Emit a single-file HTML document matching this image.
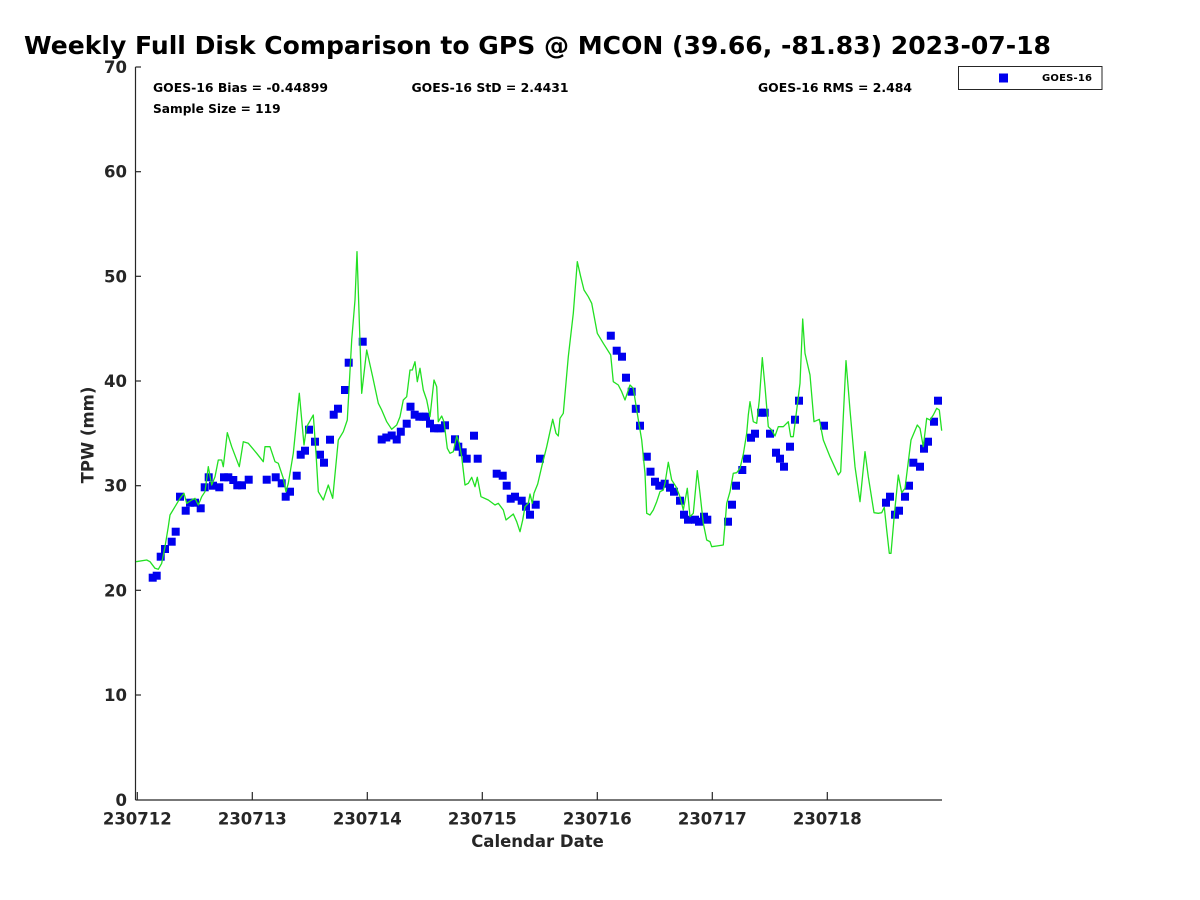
<!DOCTYPE html>
<html><head><meta charset="utf-8"><style>
html,body{margin:0;padding:0;background:#fff;}
svg{display:block;}
text{font-family:"DejaVu Sans","Liberation Sans",sans-serif;font-weight:bold;}
</style></head><body>
<svg width="1200" height="900" viewBox="0 0 1200 900" xmlns="http://www.w3.org/2000/svg">
<rect width="1200" height="900" fill="#fff"/>
<text x="24" y="54" font-size="25" fill="#000" textLength="1027" lengthAdjust="spacingAndGlyphs">Weekly Full Disk Comparison to GPS @ MCON (39.66, -81.83) 2023-07-18</text>
<g stroke="#262626" stroke-width="1.2" fill="none">
<line x1="135.5" y1="67" x2="135.5" y2="800"/>
<line x1="135.5" y1="800" x2="942" y2="800"/>
<line x1="135.5" y1="67" x2="141" y2="67"/>
<line x1="135.5" y1="171.7" x2="141" y2="171.7"/>
<line x1="135.5" y1="276.3" x2="141" y2="276.3"/>
<line x1="135.5" y1="381" x2="141" y2="381"/>
<line x1="135.5" y1="485.7" x2="141" y2="485.7"/>
<line x1="135.5" y1="590.3" x2="141" y2="590.3"/>
<line x1="135.5" y1="695" x2="141" y2="695"/>
<line x1="137.3" y1="800" x2="137.3" y2="792"/>
<line x1="252.3" y1="800" x2="252.3" y2="792"/>
<line x1="367.3" y1="800" x2="367.3" y2="792"/>
<line x1="482.3" y1="800" x2="482.3" y2="792"/>
<line x1="597.3" y1="800" x2="597.3" y2="792"/>
<line x1="712.3" y1="800" x2="712.3" y2="792"/>
<line x1="827.3" y1="800" x2="827.3" y2="792"/>
</g>
<g font-size="16.5" fill="#262626" text-anchor="end">
<text x="127" y="73">70</text>
<text x="127" y="177.7">60</text>
<text x="127" y="282.3">50</text>
<text x="127" y="387">40</text>
<text x="127" y="491.7">30</text>
<text x="127" y="596.3">20</text>
<text x="127" y="701">10</text>
<text x="127" y="806">0</text>
</g>
<g font-size="16.5" fill="#262626" text-anchor="middle">
<text x="137.3" y="824.5">230712</text>
<text x="252.3" y="824.5">230713</text>
<text x="367.3" y="824.5">230714</text>
<text x="482.3" y="824.5">230715</text>
<text x="597.3" y="824.5">230716</text>
<text x="712.3" y="824.5">230717</text>
<text x="827.3" y="824.5">230718</text>
</g>
<text x="537.5" y="847" font-size="16.5" fill="#262626" text-anchor="middle">Calendar Date</text>
<text transform="translate(93.5,435) rotate(-90)" font-size="16.5" fill="#262626" text-anchor="middle">TPW (mm)</text>
<g font-size="12.2" fill="#000">
<text x="153" y="92" textLength="175" lengthAdjust="spacingAndGlyphs">GOES-16 Bias = -0.44899</text>
<text x="153" y="113">Sample Size = 119</text>
<text x="411.5" y="92" textLength="157" lengthAdjust="spacingAndGlyphs">GOES-16 StD = 2.4431</text>
<text x="758" y="92" textLength="154" lengthAdjust="spacingAndGlyphs">GOES-16 RMS = 2.484</text>
</g>
<rect x="958.5" y="66.5" width="143.5" height="23" fill="#fff" stroke="#262626" stroke-width="1"/>
<rect x="999" y="73.5" width="9" height="9" fill="#0000ee"/>
<text x="1042" y="81" font-size="10" fill="#000" textLength="50" lengthAdjust="spacing">GOES-16</text>
<g fill="#0000ee">
<rect x="148.7" y="573.7" width="8" height="8"/>
<rect x="152.7" y="571.7" width="8" height="8"/>
<rect x="156.7" y="552.7" width="8" height="8"/>
<rect x="161" y="545" width="8" height="8"/>
<rect x="167.7" y="537.7" width="8" height="8"/>
<rect x="171.7" y="527.7" width="8" height="8"/>
<rect x="176" y="492.7" width="8" height="8"/>
<rect x="181.7" y="506.7" width="8" height="8"/>
<rect x="186" y="498.7" width="8" height="8"/>
<rect x="191" y="498.7" width="8" height="8"/>
<rect x="196.7" y="504.3" width="8" height="8"/>
<rect x="200.7" y="483.3" width="8" height="8"/>
<rect x="204.7" y="473.3" width="8" height="8"/>
<rect x="209" y="481.7" width="8" height="8"/>
<rect x="215.3" y="483.3" width="8" height="8"/>
<rect x="220" y="473.3" width="8" height="8"/>
<rect x="224.3" y="473.3" width="8" height="8"/>
<rect x="229.3" y="476" width="8" height="8"/>
<rect x="233.3" y="481.3" width="8" height="8"/>
<rect x="238" y="481.3" width="8" height="8"/>
<rect x="244.7" y="475.7" width="8" height="8"/>
<rect x="262.7" y="475.7" width="8" height="8"/>
<rect x="271.7" y="473.3" width="8" height="8"/>
<rect x="277.7" y="479.3" width="8" height="8"/>
<rect x="281.7" y="492.7" width="8" height="8"/>
<rect x="286" y="487.7" width="8" height="8"/>
<rect x="292.7" y="471.7" width="8" height="8"/>
<rect x="296.7" y="450.7" width="8" height="8"/>
<rect x="301" y="446.7" width="8" height="8"/>
<rect x="305" y="425.7" width="8" height="8"/>
<rect x="311" y="437.7" width="8" height="8"/>
<rect x="316" y="450.7" width="8" height="8"/>
<rect x="320" y="458.7" width="8" height="8"/>
<rect x="326" y="435.7" width="8" height="8"/>
<rect x="329.7" y="410.7" width="8" height="8"/>
<rect x="334" y="404.7" width="8" height="8"/>
<rect x="341" y="386" width="8" height="8"/>
<rect x="344.7" y="358.7" width="8" height="8"/>
<rect x="358.7" y="337.7" width="8" height="8"/>
<rect x="377.7" y="435.5" width="8" height="8"/>
<rect x="382.3" y="433.5" width="8" height="8"/>
<rect x="387.7" y="431.5" width="8" height="8"/>
<rect x="392.7" y="435.5" width="8" height="8"/>
<rect x="396.8" y="427.7" width="8" height="8"/>
<rect x="402.7" y="419.7" width="8" height="8"/>
<rect x="406.5" y="402.7" width="8" height="8"/>
<rect x="410.7" y="410.7" width="8" height="8"/>
<rect x="415.3" y="412.7" width="8" height="8"/>
<rect x="419.3" y="412.7" width="8" height="8"/>
<rect x="422" y="412.7" width="8" height="8"/>
<rect x="426" y="419.7" width="8" height="8"/>
<rect x="430" y="424.3" width="8" height="8"/>
<rect x="434.3" y="424.3" width="8" height="8"/>
<rect x="436.7" y="424.3" width="8" height="8"/>
<rect x="441" y="421.3" width="8" height="8"/>
<rect x="451" y="435.3" width="8" height="8"/>
<rect x="454.3" y="442.7" width="8" height="8"/>
<rect x="458.7" y="448.3" width="8" height="8"/>
<rect x="462.7" y="454.7" width="8" height="8"/>
<rect x="470" y="431.7" width="8" height="8"/>
<rect x="473.7" y="454.7" width="8" height="8"/>
<rect x="492.7" y="469.7" width="8" height="8"/>
<rect x="498.7" y="471.7" width="8" height="8"/>
<rect x="502.7" y="481.7" width="8" height="8"/>
<rect x="506.7" y="494.7" width="8" height="8"/>
<rect x="511" y="492.7" width="8" height="8"/>
<rect x="517.7" y="496.7" width="8" height="8"/>
<rect x="522" y="502.7" width="8" height="8"/>
<rect x="526" y="510.7" width="8" height="8"/>
<rect x="531.7" y="500.7" width="8" height="8"/>
<rect x="536" y="454.7" width="8" height="8"/>
<rect x="606.8" y="331.7" width="8" height="8"/>
<rect x="612.7" y="346.7" width="8" height="8"/>
<rect x="618" y="352.7" width="8" height="8"/>
<rect x="622" y="373.7" width="8" height="8"/>
<rect x="627.7" y="387.7" width="8" height="8"/>
<rect x="631.8" y="404.8" width="8" height="8"/>
<rect x="636" y="421.7" width="8" height="8"/>
<rect x="642.8" y="452.7" width="8" height="8"/>
<rect x="646.5" y="467.7" width="8" height="8"/>
<rect x="651" y="477.7" width="8" height="8"/>
<rect x="655.3" y="481.7" width="8" height="8"/>
<rect x="660.7" y="479.7" width="8" height="8"/>
<rect x="666" y="483.7" width="8" height="8"/>
<rect x="670" y="487.7" width="8" height="8"/>
<rect x="676" y="496.7" width="8" height="8"/>
<rect x="680" y="510.7" width="8" height="8"/>
<rect x="684" y="515.7" width="8" height="8"/>
<rect x="691" y="515.7" width="8" height="8"/>
<rect x="695" y="517.7" width="8" height="8"/>
<rect x="700" y="512.7" width="8" height="8"/>
<rect x="703.3" y="515.7" width="8" height="8"/>
<rect x="724" y="517.7" width="8" height="8"/>
<rect x="728" y="500.7" width="8" height="8"/>
<rect x="732" y="481.7" width="8" height="8"/>
<rect x="738.3" y="466" width="8" height="8"/>
<rect x="743" y="454.7" width="8" height="8"/>
<rect x="747" y="433.7" width="8" height="8"/>
<rect x="751" y="429.7" width="8" height="8"/>
<rect x="757" y="408.7" width="8" height="8"/>
<rect x="760.7" y="408.7" width="8" height="8"/>
<rect x="766" y="429.7" width="8" height="8"/>
<rect x="772" y="448.7" width="8" height="8"/>
<rect x="776" y="454.7" width="8" height="8"/>
<rect x="780" y="462.7" width="8" height="8"/>
<rect x="786" y="442.7" width="8" height="8"/>
<rect x="791" y="415.7" width="8" height="8"/>
<rect x="795" y="396.7" width="8" height="8"/>
<rect x="820" y="421.7" width="8" height="8"/>
<rect x="882" y="498.7" width="8" height="8"/>
<rect x="886" y="492.7" width="8" height="8"/>
<rect x="891" y="510.7" width="8" height="8"/>
<rect x="895" y="506.7" width="8" height="8"/>
<rect x="901" y="492.7" width="8" height="8"/>
<rect x="905" y="481.7" width="8" height="8"/>
<rect x="909.3" y="458.7" width="8" height="8"/>
<rect x="916" y="462.7" width="8" height="8"/>
<rect x="920" y="444.7" width="8" height="8"/>
<rect x="924" y="437.7" width="8" height="8"/>
<rect x="930" y="417.7" width="8" height="8"/>
<rect x="934" y="396.7" width="8" height="8"/>
</g>
<polyline fill="none" stroke="#22e022" stroke-width="1.3" stroke-linejoin="round" points="136,561.7 146.7,560 150,561.7 155,568.3 158.3,569.3 161.7,563.3 165,546.7 168.3,526.7 170,515 175,506.7 180,498.3 184,493.3 186.7,503.3 191.7,500 195,498.3 198.3,505 201.7,496.7 205,491.7 208.3,466.7 211.7,485 215,476.7 218.3,460 221.7,460 223.3,466.7 227.3,432.7 231.7,446.7 239.3,466.7 243.3,441.7 248.3,443.3 256.7,453.3 263.3,461.7 265,446.7 270,446.7 275,461.7 278.3,463.3 283.3,478.3 286,491.7 288.3,483.3 293.3,453.3 299.3,393.3 304,445 306.7,426.7 313.3,415 316,453.3 318.3,491.7 323.3,500 328.3,485 332.7,498.3 338.3,440 343.3,431.7 347.3,420 351.7,340 355,300 357,251.7 361.7,393.3 366.7,350 372.5,376 378.3,403.3 381.7,410 386.7,421.7 391.7,429.3 396.7,425 400,416.7 403.3,400 406.7,396.7 410,370 412.3,370 415,361.7 417.3,381.7 420,368.3 423.3,390 426.7,400 430,416.7 434,380 436.7,386.7 438.3,421.7 441.7,416 444,421.7 447.3,448.3 450,453.3 453.3,451.7 456.7,436 459.3,443.3 461.7,456.7 465,485 468.3,483.3 471.7,477.3 475,486.7 477.3,477.3 481,496.7 488.3,500 495,505 498.3,503.3 503.3,510 506,520 510,516.7 513.3,514 516.7,521.7 520,531.7 522.7,520 525,506.7 528.3,503.3 530,494 532.3,503.3 534,493.3 537.7,484 541.7,466.7 546.7,446.7 552.7,419.3 556,433.3 558.3,436 560,418.3 563.3,413.3 568.3,356.7 573.3,313.3 577.3,261.7 580.7,276.7 584,290 588.3,296.7 591.7,303.3 597.3,333.3 603.3,343.3 610.7,355 613.3,381.7 618.3,385 621.7,391.7 625,400 630,385 633.3,388.3 636.7,410 641.7,440 645,473.3 646.7,513.3 650,515 653.3,510 656.7,501.7 660,491.7 663.3,490 665,483.3 668.3,462.3 671.7,480 676,486.7 680,496.7 683.3,510 687.3,488.3 690,516.7 693.3,513.3 697.3,470.7 700,493.3 703.3,523.3 706.7,540 710,541.7 711.7,546.7 716.7,546 723.3,545 726.7,503.3 730,491.7 733.3,473.3 736.7,472.7 740,468.3 743.3,454.3 746.7,433.3 748.3,415 750,401.7 753.3,421.7 756.7,423.3 759.3,400 762.3,357.7 765,386.7 768.3,426.7 771.7,430 775,436 778.3,426.7 783.3,426.7 788.3,421.7 790.7,436.7 793.3,436.7 796.7,410 800,383.3 802.7,319 805,353.3 810,375 814,421.7 819.3,419.3 823.3,440 830,456.7 838.3,475 840.7,471.7 843.3,416.7 846,360.7 850,410 855,466.7 860,501.7 865,451.7 868.3,476.7 874,512.7 878.3,513.3 881.7,512.7 884.3,507.3 886.7,530 889.3,553.3 891,553.3 894.3,515 898.3,475 901.7,492.7 905,488.3 908.3,461.7 911,440 917.3,425 920,428.3 923.3,446.7 926.7,418.3 930,420 933.3,415 936.7,408.3 939.3,410 941.7,430.7"/>
</svg>
</body></html>
